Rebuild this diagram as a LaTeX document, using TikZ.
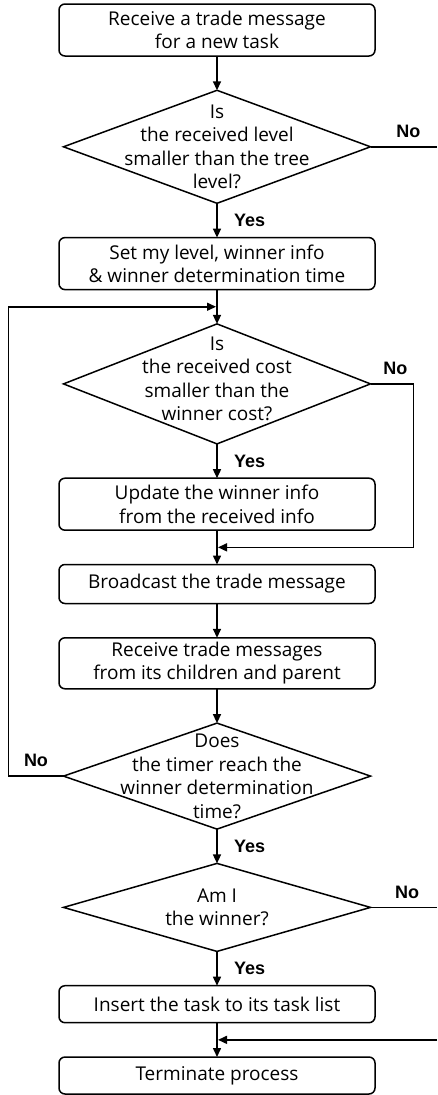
\documentclass[tikz,border=0pt]{standalone}
\usepackage{fontspec}
\setmainfont{Open Sans}
\newfontfamily\ansfont{Liberation Sans}
\usetikzlibrary{arrows.meta,positioning,shapes.geometric,calc}
\tikzset{
  box/.style  ={draw, rounded corners=6pt, align=center, font=\fontsize{19}{23.5}\selectfont, minimum width=316pt, inner sep=2pt, outer sep=0pt, line width=1.5pt},
  dec/.style  ={draw, diamond, minimum width=307pt, inner sep=0pt, outer sep=0pt, line width=1.5pt},
  dtext/.style={align=center, font=\fontsize{19}{23.5}\selectfont, inner sep=0pt},
  ans/.style  ={font=\fontsize{18}{20}\ansfont\bfseries},
  arr/.style  ={-{Triangle[length=9pt,width=8pt]}, line width=1.5pt},
  wire/.style ={line width=1.5pt},
}
\begin{document}
\begin{tikzpicture}[x=1pt, y=1pt, node distance=34.3pt]
  \useasboundingbox (0,0) rectangle (437,-1095);
  \node[box, minimum height=52pt] (recv) at (217,-30) {Receive a trade message\\for a new task};
  \node[dec, minimum height=113pt, below=of recv] (lvl) {};
  \node[dtext] (lvltxt) at (lvl) {Is\\the received level\\smaller than the tree\\level?};
  \node[box, minimum height=52pt, below=of lvl] (set) {Set my level, winner info\\\& winner determination time};
  \node[dec, minimum height=120pt, below=of set] (cost) {};
  \node[dtext, yshift=5pt] (costtxt) at (cost) {Is\\the received cost\\smaller than the\\winner cost?};
  \node[box, minimum height=52pt, below=of cost] (upd) {Update the winner info\\from the received info};
  \node[box, minimum height=39pt, below=of upd] (bcast) {Broadcast the trade message};
  \node[box, minimum height=51pt, below=of bcast] (gather) {Receive trade messages\\from its children and parent};
  \node[dec, minimum height=106pt, below=of gather] (timer) {};
  \node[dtext] (timertxt) at (timer) {Does\\the timer reach the\\winner determination\\time?};
  \node[dec, minimum height=88pt, below=of timer] (win) {};
  \node[dtext] (wintxt) at (win) {Am I\\the winner?};
  \node[box, minimum height=37pt, below=of win] (ins) {Insert the task to its task list};
  \node[box, minimum height=37pt, below=of ins] (term) {Terminate process};

  % junctions and loose ends
  \coordinate (loopin) at ($(set.south)!.5!(cost.north)$);
  \coordinate (merge) at ($(upd.south)!.5!(bcast.north)$);
  \coordinate (join) at ($(ins.south)!.5!(term.north)$);
  \coordinate (lvlout) at (437,0 |- lvl.east);
  \coordinate (winout) at (437,0 |- win.east);
  \coordinate (joinin) at (437,0 |- join);

  \draw[arr] (recv) -- (lvl);
  \draw[arr] (lvl) -- node[ans, right=13pt] {Yes} (set);
  \draw[wire] (lvl.east) -- node[ans, above=5pt, pos=.57] {No} (lvlout);
  \draw[arr] (set) -- (cost);
  \draw[arr] (cost) -- node[ans, right=13pt] {Yes} (upd);
  \draw[arr, shorten >=1pt] (cost.east) -- node[ans, above=5pt, pos=.58] {No} ++(43,0) |- (merge);
  \draw[arr] (upd) -- (bcast);
  \draw[arr] (bcast) -- (gather);
  \draw[arr] (gather) -- (timer);
  \draw[arr, shorten >=1pt] (timer.west) -- node[ans, above=5pt] {No} ++(-55,0) |- (loopin);
  \draw[arr] (timer) -- node[ans, right=13pt] {Yes} (win);
  \draw[wire] (win.east) -- node[ans, above=5pt, pos=.55] {No} (winout);
  \draw[arr] (win) -- node[ans, right=13pt] {Yes} (ins);
  \draw[arr] (ins) -- (term);
  \draw[arr, shorten >=1pt] (joinin) -- (join);
\end{tikzpicture}
\end{document}
